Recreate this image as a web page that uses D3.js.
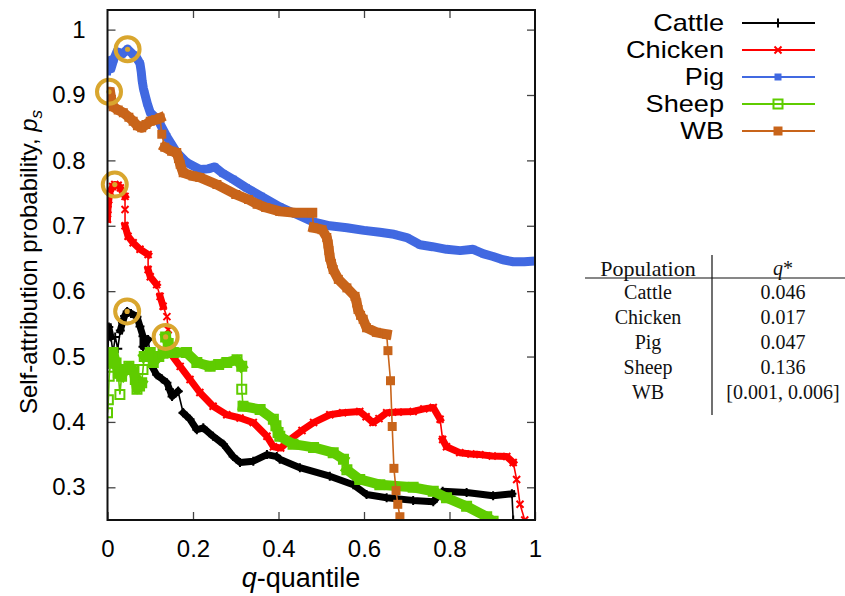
<!DOCTYPE html>
<html>
<head>
<meta charset="utf-8">
<script src="https://cdn.jsdelivr.net/npm/d3@7"></script>
<style>
  body { margin: 0; background: #fff; }
  svg { display: block; }
</style>
</head>
<body>
<svg id="chart" width="845" height="596"></svg>
<script>
// ---- data: self-attribution probability vs q-quantile, per population ----
const xTicks = [0, 0.2, 0.4, 0.6, 0.8, 1];
const yTicks = [0.3, 0.4, 0.5, 0.6, 0.7, 0.8, 0.9, 1];
const xTickLabels = ["0", "0.2", "0.4", "0.6", "0.8", "1"];
const yTickLabels = ["0.3", "0.4", "0.5", "0.6", "0.7", "0.8", "0.9", "1"];

const populations = ["Cattle", "Chicken", "Pig", "Sheep", "WB"];

const cattle = [
  [0, 0.488], [0.003, 0.545], [0.008, 0.53], [0.013, 0.505], [0.018, 0.53], [0.024, 0.512],
  [0.03, 0.54], [0.035, 0.552], [0.04, 0.562], [0.046, 0.569], [0.055, 0.566], [0.069, 0.561],
  [0.076, 0.546], [0.083, 0.531], [0.083, 0.515], [0.095, 0.526], [0.104, 0.485], [0.115, 0.472],
  [0.127, 0.466], [0.139, 0.46], [0.145, 0.45], [0.151, 0.439], [0.165, 0.447], [0.177, 0.414],
  [0.193, 0.404], [0.209, 0.388], [0.224, 0.391], [0.247, 0.378], [0.271, 0.366], [0.294, 0.347],
  [0.31, 0.338], [0.341, 0.34], [0.373, 0.35], [0.396, 0.347], [0.403, 0.343], [0.45, 0.33],
  [0.52, 0.317], [0.575, 0.304], [0.606, 0.289], [0.653, 0.284], [0.715, 0.28], [0.762, 0.278],
  [0.784, 0.294], [0.84, 0.292], [0.902, 0.287], [0.946, 0.29], [0.949, 0.25]
];

const chicken = [
  [0, 0.71], [0.001, 0.725], [0.003, 0.74], [0.006, 0.752], [0.012, 0.76], [0.017, 0.763],
  [0.025, 0.762], [0.03, 0.758], [0.036, 0.75], [0.041, 0.745], [0.041, 0.725], [0.041, 0.70],
  [0.048, 0.684], [0.06, 0.674], [0.076, 0.664], [0.095, 0.656], [0.095, 0.633], [0.1, 0.622],
  [0.115, 0.61], [0.123, 0.592], [0.13, 0.577], [0.139, 0.561], [0.142, 0.541], [0.146, 0.506],
  [0.17, 0.485], [0.193, 0.465], [0.216, 0.445], [0.247, 0.424], [0.279, 0.411], [0.31, 0.406],
  [0.341, 0.399], [0.373, 0.378], [0.388, 0.362], [0.405, 0.36], [0.427, 0.373], [0.455, 0.387],
  [0.482, 0.399], [0.52, 0.411], [0.55, 0.414], [0.59, 0.416], [0.605, 0.408], [0.621, 0.399],
  [0.635, 0.405], [0.653, 0.414], [0.68, 0.415], [0.715, 0.416], [0.74, 0.42], [0.762, 0.422],
  [0.778, 0.404], [0.784, 0.373], [0.793, 0.362], [0.824, 0.353], [0.85, 0.351], [0.871, 0.35],
  [0.9, 0.348], [0.934, 0.347], [0.949, 0.338], [0.957, 0.312], [0.965, 0.274], [0.976, 0.25]
];

const pig = [
  [0, 0.935], [0.002, 0.952], [0.008, 0.94], [0.015, 0.955], [0.022, 0.966], [0.035, 0.963],
  [0.047, 0.970], [0.06, 0.962], [0.07, 0.955], [0.076, 0.948], [0.079, 0.935], [0.081, 0.922],
  [0.084, 0.91], [0.087, 0.902], [0.093, 0.887], [0.1, 0.873], [0.118, 0.862], [0.139, 0.836],
  [0.162, 0.812], [0.185, 0.797], [0.216, 0.786], [0.235, 0.787], [0.251, 0.79], [0.27, 0.78],
  [0.294, 0.771], [0.325, 0.758], [0.36, 0.745], [0.403, 0.729], [0.44, 0.718], [0.481, 0.706],
  [0.52, 0.70], [0.56, 0.697], [0.6, 0.693], [0.637, 0.69], [0.67, 0.687], [0.70, 0.682],
  [0.731, 0.671], [0.76, 0.668], [0.793, 0.664], [0.825, 0.662], [0.855, 0.664], [0.88, 0.657],
  [0.902, 0.653], [0.925, 0.648], [0.949, 0.645], [0.975, 0.645], [0.995, 0.646]
];

const sheep = [
  [0, 0.414], [0.002, 0.434], [0.004, 0.47], [0.007, 0.49], [0.013, 0.506], [0.02, 0.49],
  [0.025, 0.475], [0.029, 0.442], [0.033, 0.47], [0.041, 0.48], [0.05, 0.485], [0.06, 0.48],
  [0.065, 0.465], [0.069, 0.45], [0.075, 0.455], [0.08, 0.46], [0.083, 0.48], [0.086, 0.5],
  [0.1, 0.506], [0.107, 0.491], [0.12, 0.50], [0.13, 0.505], [0.136, 0.53], [0.142, 0.52],
  [0.154, 0.506], [0.185, 0.506], [0.209, 0.491], [0.24, 0.485], [0.26, 0.488], [0.279, 0.491],
  [0.303, 0.495], [0.314, 0.485], [0.314, 0.45], [0.317, 0.424], [0.357, 0.419], [0.388, 0.404],
  [0.394, 0.394], [0.399, 0.384], [0.403, 0.378], [0.434, 0.366], [0.482, 0.361], [0.528, 0.353],
  [0.552, 0.343], [0.56, 0.327], [0.59, 0.312], [0.637, 0.304], [0.715, 0.30], [0.762, 0.294],
  [0.793, 0.284], [0.84, 0.271], [0.887, 0.255], [0.902, 0.248]
];

const wb = [
  [0.001, 0.905], [0.006, 0.905], [0.009, 0.893], [0.013, 0.882], [0.025, 0.877], [0.037, 0.873],
  [0.05, 0.866], [0.06, 0.86], [0.07, 0.853], [0.08, 0.85], [0.09, 0.855], [0.1, 0.86],
  [0.112, 0.862], [0.123, 0.865], [0.127, 0.84], [0.134, 0.82], [0.15, 0.814], [0.162, 0.812],
  [0.166, 0.803], [0.17, 0.794], [0.177, 0.781], [0.2, 0.776], [0.216, 0.774], [0.256, 0.763],
  [0.3, 0.748], [0.33, 0.74], [0.35, 0.733], [0.37, 0.728], [0.403, 0.722], [0.44, 0.72],
  [0.479, 0.72], [0.482, 0.697], [0.502, 0.694], [0.513, 0.682], [0.516, 0.672], [0.518, 0.662],
  [0.52, 0.652], [0.524, 0.642], [0.528, 0.633], [0.54, 0.618], [0.56, 0.605], [0.579, 0.592],
  [0.583, 0.582], [0.586, 0.572], [0.592, 0.563], [0.598, 0.557], [0.606, 0.544], [0.629, 0.537],
  [0.653, 0.534], [0.656, 0.509], [0.662, 0.463], [0.666, 0.393], [0.670, 0.329], [0.675, 0.295],
  [0.679, 0.274], [0.684, 0.255]
];

// optimal quantile q* per population, and the probability at that quantile
const qStarText = ["0.046", "0.017", "0.047", "0.136", "[0.001, 0.006]"];
const qStarQ = [0.046, 0.017, 0.047, 0.136, 0.0035];
const qStarP = [0.569, 0.763, 0.970, 0.530, 0.905];

// ---- styling ----
const seriesData = [cattle, chicken, pig, sheep, wb];
const colors = ["#000000", "#ff0000", "#4169e1", "#5fcc00", "#c8641a"];
const bandWidth = [7, 7, 9, 10, 10];
const markerKind = ["plus", "cross", "square", "open", "square"];
const markerSize = [4.5, 3.5, 3.5, 4.5, 4.5];
const highlight = "#d9a62e";

const svg = d3.select("#chart");
const margin = { left: 107.5, right: 535, top: 10, bottom: 520 };

const x = d3.scaleLinear().domain([0, 1]).range([margin.left, margin.right]);
const y = d3.scaleLinear().domain([0.25, 1.03]).range([margin.bottom, margin.top]);

svg.append("defs").append("clipPath").attr("id", "plotClip")
  .append("rect")
  .attr("x", margin.left).attr("y", margin.top)
  .attr("width", margin.right - margin.left).attr("height", margin.bottom - margin.top);

const font = "'Liberation Sans', Arial, Helvetica, sans-serif";

// ---- axes (ticks inward, mirrored on top/right) ----
const tickColor = "#444";
function styleAxis(g) {
  g.select(".domain").remove();
  g.selectAll(".tick line").attr("stroke", tickColor).attr("stroke-width", 1.3);
  g.selectAll(".tick text").attr("font-family", font).attr("font-size", 24).attr("fill", "#000");
}

svg.append("g").attr("transform", `translate(0,${margin.bottom})`)
  .call(d3.axisBottom(x).tickValues(xTicks).tickSize(-8).tickPadding(20)
    .tickFormat((d, i) => xTickLabels[i]))
  .call(styleAxis);

svg.append("g").attr("transform", `translate(0,${margin.top})`)
  .call(d3.axisTop(x).tickValues(xTicks.slice(1, -1)).tickSize(-8).tickFormat(""))
  .call(styleAxis);

svg.append("g").attr("transform", `translate(${margin.left},0)`)
  .call(d3.axisLeft(y).tickValues(yTicks).tickSize(-8).tickPadding(22)
    .tickFormat((d, i) => yTickLabels[i]))
  .call(styleAxis);

svg.append("g").attr("transform", `translate(${margin.right},0)`)
  .call(d3.axisRight(y).tickValues(yTicks).tickSize(-8).tickFormat(""))
  .call(styleAxis);

// ---- series ----
const plot = svg.append("g").attr("clip-path", "url(#plotClip)");

function markerPath(kind, s) {
  if (kind === "plus") return `M${-s},0H${s}M0,${-s}V${s}`;
  if (kind === "cross") return `M${-s},${-s}L${s},${s}M${-s},${s}L${s},${-s}`;
  return `M${-s},${-s}H${s}V${s}H${-s}Z`;
}

function drawMarker(g, kind, s, color, px, py) {
  const p = g.append("path")
    .attr("transform", `translate(${px},${py})`)
    .attr("d", markerPath(kind, s));
  if (kind === "square") p.attr("fill", color).attr("stroke", "none");
  else p.attr("fill", "none").attr("stroke", color).attr("stroke-width", 2);
}

seriesData.forEach((data, si) => {
  const g = plot.append("g");
  const pts = data.map(d => [x(d[0]), y(d[1])]);
  // consecutive readings close together form a dense band; long steep jumps are thin links
  let thick = "", thin = "", open = false;
  for (let i = 1; i < pts.length; i++) {
    const dx = pts[i][0] - pts[i - 1][0], dy = pts[i][1] - pts[i - 1][1];
    const sparse = Math.hypot(dx, dy) > 11 && Math.abs(dy) > 2.5 * Math.abs(dx);
    thin += `M${pts[i - 1][0]},${pts[i - 1][1]}L${pts[i][0]},${pts[i][1]}`;
    if (sparse) { open = false; continue; }
    if (!open) { thick += `M${pts[i - 1][0]},${pts[i - 1][1]}`; open = true; }
    thick += `L${pts[i][0]},${pts[i][1]}`;
  }
  g.append("path").attr("d", thin).attr("fill", "none")
    .attr("stroke", colors[si]).attr("stroke-width", 1.6);
  g.append("path").attr("d", thick).attr("fill", "none")
    .attr("stroke", colors[si]).attr("stroke-width", bandWidth[si])
    .attr("stroke-linejoin", "round").attr("stroke-linecap", "square");
  pts.forEach(p => drawMarker(g, markerKind[si], markerSize[si], colors[si], p[0], p[1]));
});

// ---- q* highlights ----
const hl = svg.append("g");
qStarQ.forEach((q, i) => {
  hl.append("circle").attr("cx", x(q)).attr("cy", y(qStarP[i])).attr("r", 12)
    .attr("fill", "none").attr("stroke", highlight).attr("stroke-width", 4);
  hl.append("circle").attr("cx", x(q)).attr("cy", y(qStarP[i])).attr("r", 2.6)
    .attr("fill", highlight);
});

// ---- frame ----
svg.append("rect")
  .attr("x", margin.left).attr("y", margin.top)
  .attr("width", margin.right - margin.left).attr("height", margin.bottom - margin.top)
  .attr("fill", "none").attr("stroke", "#111").attr("stroke-width", 2);

// ---- axis titles ----
const xt = svg.append("text").attr("x", 301).attr("y", 587)
  .attr("text-anchor", "middle").attr("font-family", font).attr("font-size", 27);
xt.append("tspan").attr("font-style", "italic").text("q");
xt.append("tspan").text("-quantile");

const yt = svg.append("text").attr("transform", "translate(37,262) rotate(-90)")
  .attr("text-anchor", "middle").attr("font-family", font).attr("font-size", 24);
yt.append("tspan").text("Self-attribution probability, ");
yt.append("tspan").attr("font-style", "italic").text("p");
yt.append("tspan").attr("font-style", "italic").attr("font-size", 17).attr("dy", 5).text("s");

// ---- legend (labels slightly widened, as in the plotting terminal's font) ----
const legend = svg.append("g");
populations.forEach((name, i) => {
  const cy = 23 + i * 27;
  legend.append("text").attr("transform", `translate(724,${cy}) scale(1.18,1)`)
    .attr("dy", "0.35em")
    .attr("text-anchor", "end").attr("font-family", font).attr("font-size", 23).text(name);
  legend.append("line").attr("x1", 742).attr("x2", 815).attr("y1", cy).attr("y2", cy)
    .attr("stroke", colors[i]).attr("stroke-width", 2);
  drawMarker(legend, markerKind[i], markerSize[i], colors[i], 778, cy);
});

// ---- q* table ----
const serif = "'Liberation Serif', 'Times New Roman', serif";
const table = svg.append("g").attr("font-family", serif).attr("font-size", 20).attr("fill", "#111");
table.append("text").attr("x", 648).attr("y", 268).attr("dy", "0.35em")
  .attr("text-anchor", "middle").attr("font-size", 22).text("Population");
const qh = table.append("text").attr("x", 783).attr("y", 268).attr("dy", "0.35em")
  .attr("text-anchor", "middle");
qh.append("tspan").attr("font-style", "italic").text("q");
qh.append("tspan").text("*");
table.append("line").attr("x1", 585).attr("x2", 845).attr("y1", 278).attr("y2", 278)
  .attr("stroke", "#111").attr("stroke-width", 1.2);
table.append("line").attr("x1", 712).attr("x2", 712).attr("y1", 255).attr("y2", 415)
  .attr("stroke", "#111").attr("stroke-width", 1.2);
populations.forEach((name, i) => {
  const cy = 292 + i * 25;
  table.append("text").attr("x", 648).attr("y", cy).attr("dy", "0.35em")
    .attr("text-anchor", "middle").text(name);
  table.append("text").attr("x", 783).attr("y", cy).attr("dy", "0.35em")
    .attr("text-anchor", "middle").text(qStarText[i]);
});
</script>
</body>
</html>
